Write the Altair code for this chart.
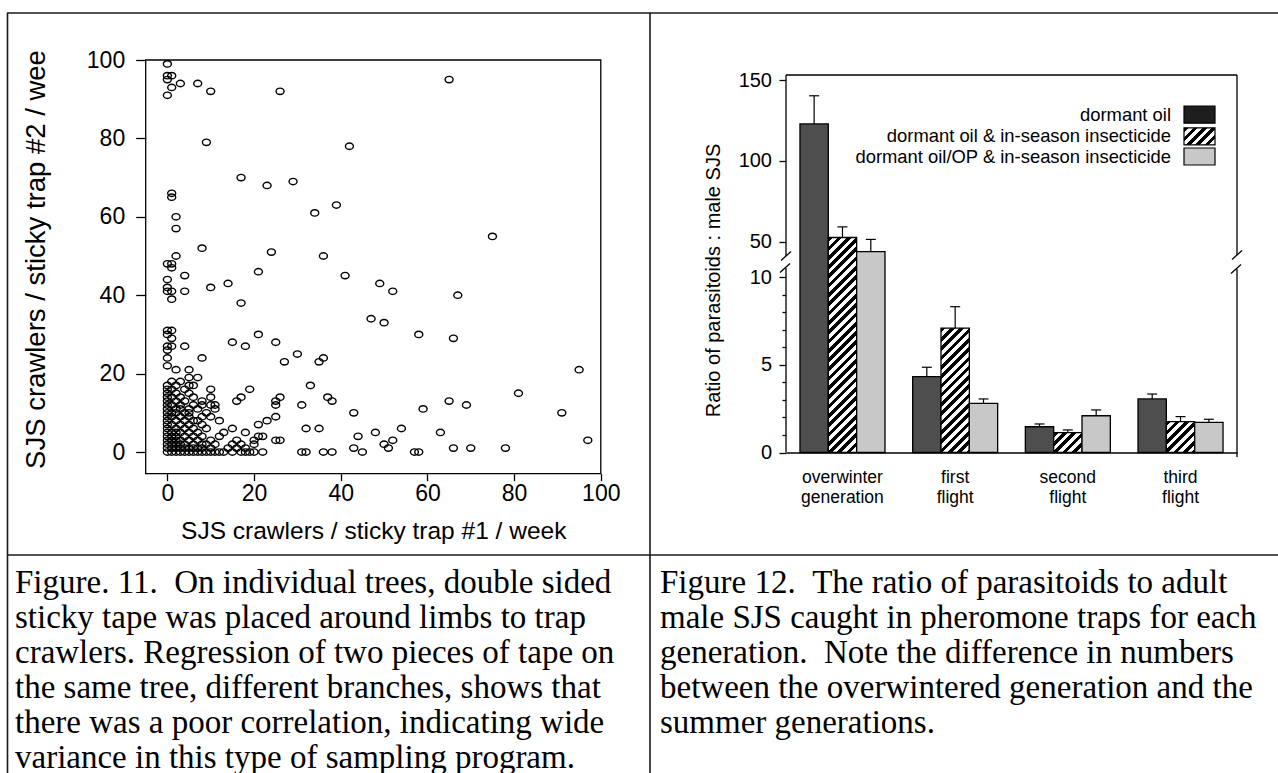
import altair as alt
import pandas as pd

SANS = "Liberation Sans"
SERIF = "Liberation Serif"

# ---------------- Figure 11 data: SJS crawlers on two sticky traps ----------------
# trap #2 count -> the trap #1 counts recorded together with it
crawlers_by_trap2 = {
    0: [0, 1, 2, 3, 4, 5, 6, 7, 8, 9, 10, 11, 12, 13, 15, 17, 18, 19, 20, 22, 31, 32, 36, 38, 45, 57, 58],
    1: [0, 1, 2, 3, 4, 5, 6, 7, 8, 10, 14, 16, 18, 43, 51, 66, 70, 78],
    2: [0, 1, 2, 3, 4, 6, 8, 9, 11, 15, 17, 20, 50],
    3: [0, 1, 2, 3, 5, 7, 10, 16, 20, 25, 26, 52, 97],
    4: [0, 1, 2, 4, 6, 8, 12, 21, 22, 44],
    5: [0, 1, 2, 3, 5, 7, 13, 18, 48, 63],
    6: [0, 2, 4, 6, 9, 15, 32, 35, 54],
    7: [0, 1, 3, 5, 8, 21],
    8: [0, 2, 4, 6, 7, 12, 23],
    9: [0, 1, 3, 5, 8, 10, 25],
    10: [0, 1, 2, 4, 5, 9, 43, 91],
    11: [0, 2, 3, 5, 7, 11, 59],
    12: [0, 1, 3, 6, 8, 10, 11, 25, 31, 69],
    13: [0, 2, 4, 8, 16, 25, 38, 65],
    14: [0, 1, 3, 6, 10, 17, 26, 37],
    15: [0, 2, 5, 81],
    16: [0, 1, 4, 10, 19],
    17: [0, 2, 5, 6, 33],
    18: [1, 3],
    19: [5, 7],
    21: [2, 5, 95],
    22: [0],
    23: [27, 35],
    24: [0, 8, 36],
    25: [30],
    26: [0],
    27: [0, 1, 4, 18],
    28: [15, 25],
    29: [1, 66],
    30: [0, 21, 58],
    31: [0, 1],
    33: [50],
    34: [47],
    38: [17],
    39: [1],
    40: [67],
    41: [0, 1, 4, 52],
    42: [0, 10],
    43: [14, 49],
    44: [0],
    45: [4, 41],
    46: [21],
    47: [1],
    48: [0, 1],
    50: [2, 36],
    51: [24],
    52: [8],
    55: [75],
    57: [2],
    60: [2],
    61: [34],
    63: [39],
    65: [1],
    66: [1],
    68: [23],
    69: [29],
    70: [17],
    78: [42],
    79: [9],
    91: [0],
    92: [10, 26],
    93: [1],
    94: [3, 7],
    95: [0, 65],
    96: [0, 1],
    99: [0],
}
trap1, trap2 = [], []
for t2, t1_list in crawlers_by_trap2.items():
    for t1 in t1_list:
        trap1.append(t1)
        trap2.append(t2)

scatter_ticks = [0, 20, 40, 60, 80, 100]

# ---------------- Figure 12 data: parasitoid : male SJS ratio ----------------
generations = ["overwinter generation", "first flight", "second flight", "third flight"]
treatments = ["dormant oil", "dormant oil & in-season insecticide",
              "dormant oil/OP & in-season insecticide"]
oil_mean = [123.0, 4.33, 1.47, 3.06]
oil_err = [140.5, 4.87, 1.63, 3.34]
ins_mean = [52.5, 7.10, 1.13, 1.76]
ins_err = [59.1, 8.33, 1.29, 2.05]
op_mean = [43.7, 2.81, 2.10, 1.72]
op_err = [51.3, 3.06, 2.43, 1.90]
upper_ticks = [50, 100, 150]
lower_ticks = [0, 5, 10]
lower_minor = [1, 2, 3, 4, 6, 7, 8, 9]

caption_11 = [
    "Figure. 11. \u00a0On individual trees, double sided",
    "sticky tape was placed around limbs to trap",
    "crawlers. Regression of two pieces of tape on",
    "the same tree, different branches, shows that",
    "there was a poor correlation, indicating wide",
    "variance in this type of sampling program.",
]
caption_12 = [
    "Figure 12. \u00a0The ratio of parasitoids to adult",
    "male SJS caught in pheromone traps for each",
    "generation. \u00a0Note the difference in numbers",
    "between the overwintered generation and the",
    "summer generations.",
]

# ---------------- layout (pixels on the 1278 x 773 page) ----------------
W, H = 1278, 773
SC_X_DOM, SC_X_RNG = [-5, 100], [145.7, 600.8]
SC_Y_DOM, SC_Y_RNG = [-5.5, 100], [473.6, 60]

BX_RNG = [786, 1237]
PAD_IN, PAD_OUT = 0.2456, 0.124
UP_DOM, UP_RNG = [37.9, 153.4], [261, 75]
LO_DOM, LO_RNG = [0, 10.94], [452.5, 261]

DARK = "#4e4e4e"
DOTTED = "#c8c8c8"


def lin(dom, rng):
    k = (rng[1] - rng[0]) / (dom[1] - dom[0])
    return lambda v: rng[0] + (v - dom[0]) * k


up_px = lin(UP_DOM, UP_RNG)
lo_px = lin(LO_DOM, LO_RNG)
# the common baseline (0 on the lower axis) expressed in upper-axis units
base_up = UP_DOM[0] + (LO_RNG[0] - UP_RNG[0]) * (UP_DOM[1] - UP_DOM[0]) / (UP_RNG[1] - UP_RNG[0])
step = (BX_RNG[1] - BX_RNG[0]) / (len(generations) - PAD_IN + 2 * PAD_OUT)
bar_w = step * (1 - PAD_IN) / len(treatments)


def hatch(w, h, period=9.3, frac=0.5):
    """45-degree black/white stripes as an objectBoundingBox linear gradient."""
    L = w + h
    D = w * w + h * h
    n = L / period
    stops = []
    k = 0
    while k < n:
        a = k / n
        b = min((k + frac) / n, 1.0)
        c = min((k + 1) / n, 1.0)
        stops += [{"offset": a, "color": "black"}, {"offset": b, "color": "black"},
                  {"offset": b, "color": "white"}, {"offset": c, "color": "white"}]
        k += 1
    return {"gradient": "linear", "x1": 0, "y1": 0, "x2": L * w / D, "y2": L * h / D, "stops": stops}


means = [oil_mean, ins_mean, op_mean]
errs = [oil_err, ins_err, op_err]
upper_rows, lower_rows = [], []
for gi, g in enumerate(generations):
    for ti, t in enumerate(treatments):
        m, e = means[ti][gi], errs[ti][gi]
        top = up_px(m) if gi == 0 else lo_px(m)
        if ti == 0:
            paint = DARK
        elif ti == 1:
            paint = hatch(bar_w, LO_RNG[0] - top)
        else:
            paint = DOTTED
        row = {"generation": g, "treatment": t, "mean": m, "err": e, "paint": paint}
        (upper_rows if gi == 0 else lower_rows).append(row)

ONE = pd.DataFrame({"k": [0]})


def seg(x1, y1, x2, y2, w=1.3, color="black"):
    return alt.Chart(ONE).mark_rule(stroke=color, strokeWidth=w).encode(
        x=alt.value(x1), y=alt.value(y1), x2=alt.value(x2), y2=alt.value(y2))


def label(txt, x, y, size, align="left", baseline="middle", font=SANS, **kw):
    return alt.Chart(ONE).mark_text(align=align, baseline=baseline, font=font, fontSize=size,
                                    color="black", **kw).encode(
        x=alt.value(x), y=alt.value(y), text=alt.value(txt))


# ---------------- Figure 11: scatter ----------------
sc_x_axis = alt.Axis(orient="bottom", offset=SC_Y_RNG[0] - H, values=scatter_ticks, domain=False, grid=False,
                     tickSize=7, tickWidth=1.3, tickColor="black",
                     labelFont=SANS, labelFontSize=23, labelColor="black", labelPadding=13,
                     labelBaseline="middle", labelFlush=False, labelOverlap=False,
                     title="SJS crawlers / sticky trap #1 / week", titleFont=SANS, titleFontSize=24.5,
                     titleFontWeight="normal", titleColor="black", titleY=57.4, titleBaseline="middle")
sc_y_axis = alt.Axis(orient="left", offset=-SC_X_RNG[0], values=scatter_ticks, domain=False, grid=False,
                     tickSize=10, tickWidth=1.3, tickColor="black",
                     labelFont=SANS, labelFontSize=23, labelColor="black", labelPadding=11,
                     labelAngle=0, labelFlush=False, labelOverlap=False,
                     title="SJS crawlers / sticky trap #2 / wee", titleFont=SANS, titleFontSize=27.5,
                     titleFontWeight="normal", titleColor="black", titleX=36 - SC_X_RNG[0], titleY=259,
                     titleAngle=270, titleAlign="center", titleBaseline="middle")

sx = alt.Scale(domain=SC_X_DOM, range=SC_X_RNG, nice=False, zero=False)
sy = alt.Scale(domain=SC_Y_DOM, range=SC_Y_RNG, nice=False, zero=False)
ELLIPSE = "M-1,0A1,0.8,0,1,1,1,0A1,0.8,0,1,1,-1,0Z"

points = alt.Chart(pd.DataFrame({"trap1": trap1, "trap2": trap2})).mark_point(
    shape=ELLIPSE, size=64, filled=False, stroke="black", strokeWidth=1.4, opacity=1).encode(
    x=alt.X("trap1:Q", scale=sx, axis=sc_x_axis),
    y=alt.Y("trap2:Q", scale=sy, axis=sc_y_axis))
frame = alt.Chart(ONE).mark_rect(fillOpacity=0, stroke="black", strokeWidth=1.3).encode(
    x=alt.datum(SC_X_DOM[0]), x2=alt.datum(SC_X_DOM[1]),
    y=alt.datum(SC_Y_DOM[0]), y2=alt.datum(SC_Y_DOM[1]))
scatter = alt.layer(points, frame)

# ---------------- Figure 12: broken-axis bars ----------------
bx_scale = alt.Scale(domain=generations, range=BX_RNG, paddingInner=PAD_IN, paddingOuter=PAD_OUT)
xo = alt.XOffset("treatment:N", scale=alt.Scale(domain=treatments))
bx_axis = alt.Axis(orient="bottom", offset=LO_RNG[0] - H, domain=True, domainColor="black", domainWidth=1.3,
                   ticks=False, tickSize=0, labelExpr="split(datum.label, ' ')", labelAngle=0,
                   labelFont=SANS, labelFontSize=17.5, labelLineHeight=20, labelPadding=16,
                   labelBaseline="top", labelColor="black", title="", grid=False)

axis_common = dict(orient="left", offset=-BX_RNG[0], domain=False, grid=False, tickColor="black",
                   tickWidth=1.3, labelFont=SANS, labelFontSize=20, labelColor="black",
                   labelFlush=False, labelOverlap=False)
up_axis = alt.Axis(values=upper_ticks, tickSize=7, labelPadding=7.5, title="", **axis_common)
lo_axis = alt.Axis(values=lower_ticks, tickSize=7, labelPadding=7.5,
                   title="Ratio of parasitoids : male SJS", titleFont=SANS, titleFontSize=20,
                   titleFontWeight="normal", titleColor="black", titleX=713 - BX_RNG[0], titleY=280,
                   titleAngle=270, titleAlign="center", titleBaseline="middle", **axis_common)
minor_axis = alt.Axis(values=lower_minor, tickSize=4, labels=False, title="", **axis_common)


def bar_group(rows, dom, rng, x_axis, y_axis, baseline=None):
    base = alt.Chart(alt.Data(values=rows))
    x = alt.X("generation:N", scale=bx_scale, axis=x_axis)
    ys = alt.Scale(domain=dom, range=rng, nice=False, zero=False)
    enc = dict(x=x, xOffset=xo, y=alt.Y("mean:Q", scale=ys, axis=y_axis),
               fill=alt.Fill("paint:N", scale=None))
    if baseline is not None:
        enc["y2"] = alt.datum(baseline)
    bars = base.mark_bar(stroke="black", strokeWidth=1.3).encode(**enc)
    err = base.mark_rule(color="black", strokeWidth=1.2).encode(
        x=x, xOffset=xo, y=alt.Y("mean:Q", scale=ys, axis=y_axis), y2="err:Q")
    cap = base.mark_tick(orient="horizontal", size=10, thickness=1.2, color="black", opacity=1).encode(
        x=x, xOffset=xo, y=alt.Y("err:Q", scale=ys, axis=y_axis))
    return alt.layer(err, cap, bars)


upper = bar_group(upper_rows, UP_DOM, UP_RNG, None, up_axis, baseline=base_up)
lower = bar_group(lower_rows, LO_DOM, LO_RNG, bx_axis, lo_axis)
minor = alt.Chart(alt.Data(values=lower_rows)).mark_rule(opacity=0).encode(
    y=alt.Y("mean:Q", scale=alt.Scale(domain=LO_DOM, range=LO_RNG, nice=False, zero=False), axis=minor_axis))

# plot box with axis breaks
bx0, bx1 = BX_RNG
box = [
    seg(bx0, 75, bx1, 75),
    seg(bx0, 75, bx0, 256), seg(bx0, 268, bx0, LO_RNG[0]),
    seg(bx1, 75, bx1, 255), seg(bx1, 269, bx1, 457),
    seg(bx0 - 5, 260.5, bx0 + 5, 251.5), seg(bx0 - 6, 272.5, bx0 + 4, 263.5),
    seg(bx1 - 5, 259.5, bx1 + 5, 250.5), seg(bx1 - 6, 273.5, bx1 + 4, 264.5),
]

# legend
leg_rows = [114.7, 136.3, 156.5]
legend = []
for name, yy, fill in zip(treatments, leg_rows, ["#1e1e1e", hatch(31, 17), DOTTED]):
    legend.append(label(name, 1171, yy, 18.4, align="right"))
    legend.append(alt.Chart(ONE).mark_rect(fill=fill, stroke="black", strokeWidth=1.2).encode(
        x=alt.value(1184), x2=alt.value(1215), y=alt.value(yy - 8.5), y2=alt.value(yy + 8.5)))

# table borders and captions
table = [
    seg(7, 13, W, 13, w=1.6, color="#1a1a1a"),
    seg(7.5, 13, 7.5, H, w=1.6, color="#1a1a1a"),
    seg(650, 13, 650, H, w=1.6, color="#1a1a1a"),
    seg(7, 555, W, 555, w=1.6, color="#1a1a1a"),
]
captions = [
    label("\n".join(caption_11), 15, 593, 33, baseline="alphabetic", font=SERIF, lineBreak="\n", lineHeight=35),
    label("\n".join(caption_12), 660, 593, 33, baseline="alphabetic", font=SERIF, lineBreak="\n", lineHeight=35),
]

chart = alt.layer(scatter, upper, lower, minor, *box, *legend, *table, *captions).resolve_scale(
    x="independent", y="independent", xOffset="independent"
).properties(
    width=W, height=H, padding=0, background="white",
    autosize=alt.AutoSizeParams(type="none"),
).configure_view(stroke="transparent")

chart.save("out.html", embed_options={"renderer": "svg", "actions": False})
